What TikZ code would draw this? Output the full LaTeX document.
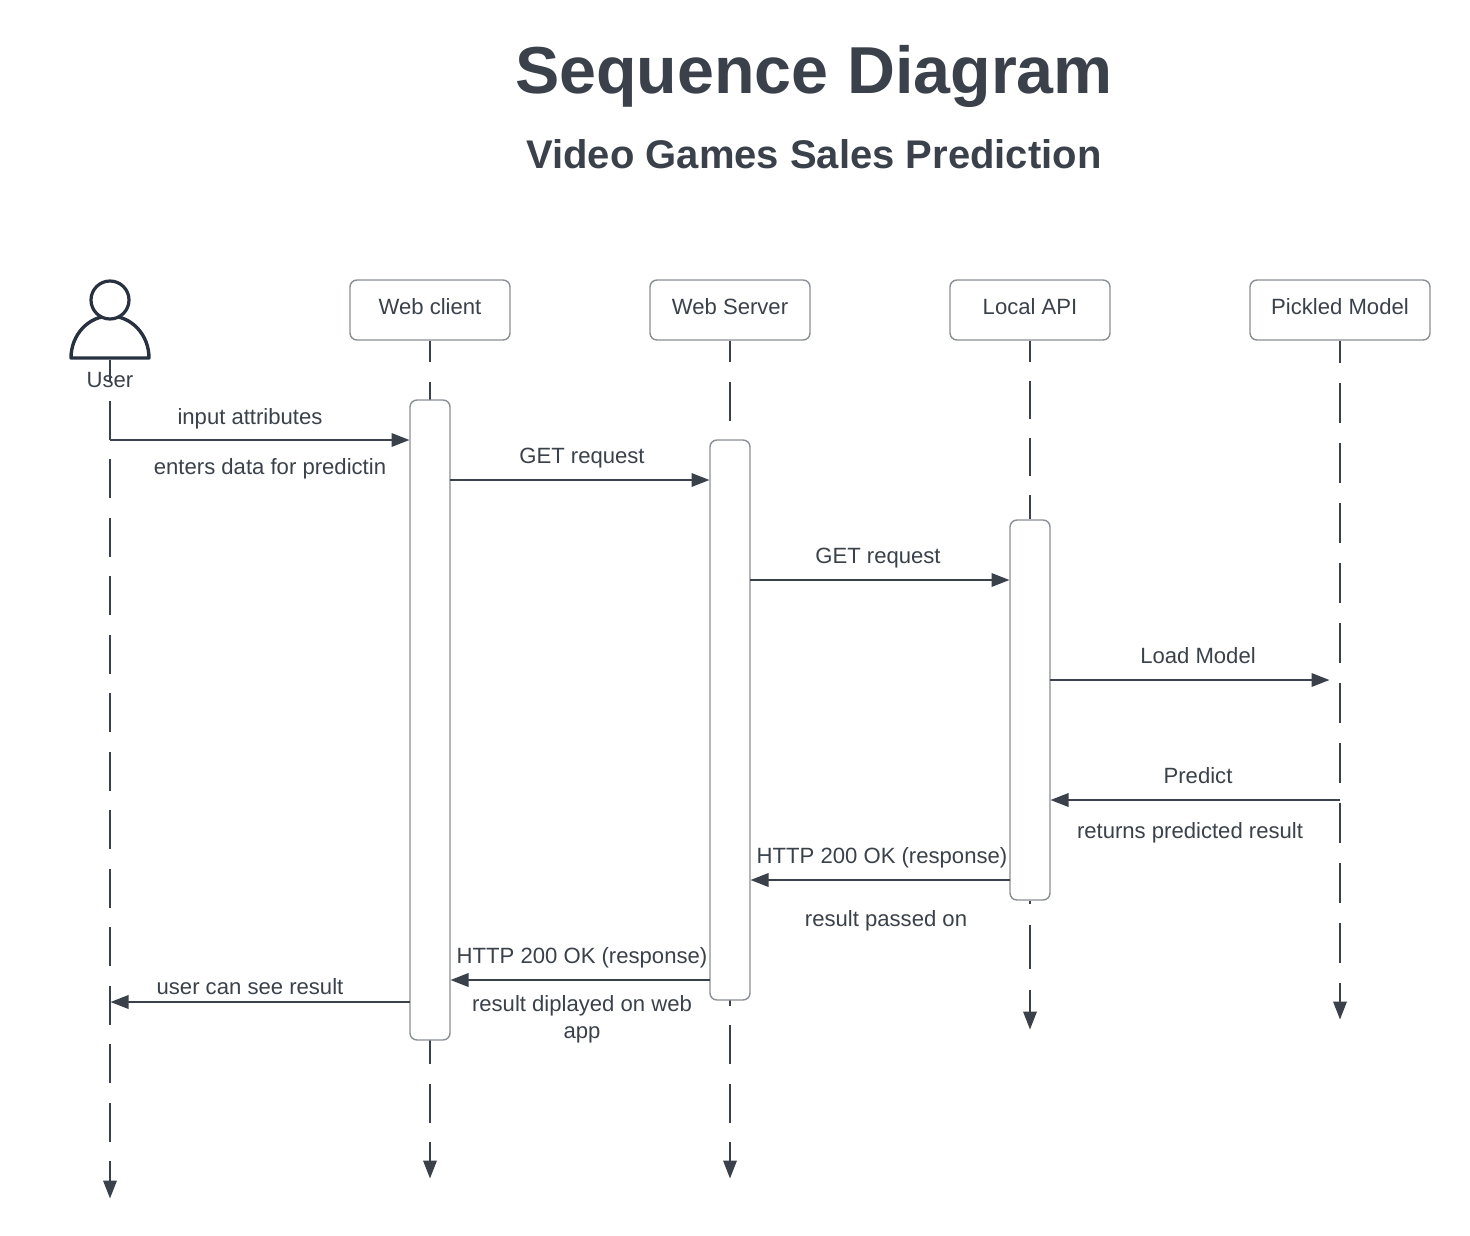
\documentclass[tikz,border=0pt]{standalone}
\usepackage{fontspec}
\setmainfont{Liberation Sans}
\usetikzlibrary{arrows.meta,backgrounds}
\definecolor{ink}{HTML}{3A414A}
\definecolor{edge}{HTML}{8A8F96}
\definecolor{actor}{HTML}{28313F}
\tikzset{
  head/.style={draw=edge,line width=1.4pt,fill=white,rounded corners=7pt,minimum height=60pt,inner sep=0pt},
  bar/.style={draw=edge,line width=1.4pt,fill=white,rounded corners=7pt,minimum width=40pt,inner sep=0pt},
  txt/.style={text=ink,inner sep=0pt,anchor=base,font=\fontsize{22.1}{26}\selectfont},
  msg/.style={draw=ink,line width=2pt,-{Triangle[length=18pt,width=13.5pt]}},
  life/.style={draw=ink,line width=2pt},
  lifeend/.style={life,-{Triangle[length=18pt,width=13.5pt]}},
  dashA/.style={dash pattern=on 39pt off 19.5pt,dash phase=17.5pt},
  dashU/.style={dash pattern=on 39pt off 19.5pt,dash phase=18pt},
  dashB/.style={dash pattern=on 38pt off 19pt,dash phase=17pt},
  dashC/.style={dash pattern=on 44pt off 21pt,dash phase=41pt},
  dashD/.style={dash pattern=on 40pt off 20pt,dash phase=18pt},
}
\begin{document}
\begin{tikzpicture}[x=1pt,y=-1pt]
\useasboundingbox (0,0) rectangle (1470,1236);
% titles
\node[txt,font=\bfseries\fontsize{66.4}{70}\selectfont] (title) at (814,94) {Sequence Diagram};
\node[txt,font=\bfseries\fontsize{40}{44}\selectfont] (subtitle) at (814,168.4) {Video Games Sales Prediction};
% participants
\node[head,minimum width=160pt] (wc) at (430,310) {};
\node[head,minimum width=160pt] (ws) at (730,310) {};
\node[head,minimum width=160pt] (api) at (1030,310) {};
\node[head,minimum width=180pt] (pm) at (1340,310) {};
\node[txt] (wcT) at (430,314.4) {Web client};
\node[txt] (wsT) at (730,314.4) {Web Server};
\node[txt] (apiT) at (1030,314.4) {Local API};
\node[txt] (pmT) at (1340,314.4) {Pickled Model};
% actor
\draw[actor,line width=3.4pt,line join=round] (71,358) arc[start angle=180,end angle=360,x radius=39,y radius=42] -- cycle;
\node[circle,draw=actor,fill=white,line width=3.2pt,minimum size=38pt,inner sep=0pt] (userHead) at (110,300) {};
\coordinate (userFoot) at (110,360);
\node[txt] (userT) at (110,387) {User};
% activations
\node[bar,minimum height=640pt] (wcBar) at (430,720) {};
\node[bar,minimum height=560pt] (wsBar) at (730,720) {};
\node[bar,minimum height=380pt] (apiBar) at (1030,710) {};
% lifeline ends
\coordinate (userEnd) at (110,1198.5);
\coordinate (wcEnd) at (430,1178.5);
\coordinate (wsEnd) at (730,1178.5);
\coordinate (apiEnd) at (1030,1029.5);
\coordinate (pmEnd) at (1340,1019.5);
\begin{scope}[on background layer]
\draw[lifeend,dashU] (userFoot) -- (userEnd);
\draw[lifeend,dashA] (wc.south) -- (wcEnd);
\draw[lifeend,dashA] (ws.south) -- (wsEnd);
\draw[life,dashB] (api.south) -- (apiBar.north);
\draw[lifeend,dashC] (apiBar.south) -- (apiEnd);
\draw[lifeend,dashD] (pm.south) -- (pmEnd);
\end{scope}
% message end points
\coordinate (m1a) at (110,440);   \coordinate (m1b) at (409.5,440);
\coordinate (m2a) at (450,480);   \coordinate (m2b) at (709.5,480);
\coordinate (m3a) at (750,580);   \coordinate (m3b) at (1009.5,580);
\coordinate (m4a) at (1050,680);  \coordinate (m4b) at (1329.5,680);
\coordinate (m5a) at (1340,800);  \coordinate (m5b) at (1050.5,800);
\coordinate (m6a) at (1010,880);  \coordinate (m6b) at (750.5,880);
\coordinate (m7a) at (710,980);   \coordinate (m7b) at (450.5,980);
\coordinate (m8a) at (410,1002);  \coordinate (m8b) at (110.5,1002);
\draw[msg] (m1a) -- (m1b);
\draw[msg] (m2a) -- (m2b);
\draw[msg] (m3a) -- (m3b);
\draw[msg] (m4a) -- (m4b);
\draw[msg] (m5a) -- (m5b);
\draw[msg] (m6a) -- (m6b);
\draw[msg] (m7a) -- (m7b);
\draw[msg] (m8a) -- (m8b);
% labels
\node[txt] (l1) at (250,424) {input attributes};
\node[txt] (l1b) at (270,474) {enters data for predictin};
\node[txt] (l2) at (582,463.4) {GET request};
\node[txt] (l3) at (878,563.4) {GET request};
\node[txt] (l4) at (1198,663.4) {Load Model};
\node[txt] (l5) at (1198,783.4) {Predict};
\node[txt] (l5b) at (1190,838) {returns predicted result};
\node[txt] (l6) at (882,863.4) {HTTP 200 OK (response)};
\node[txt] (l6b) at (886,926.6) {result passed on};
\node[txt] (l7) at (582,963.4) {HTTP 200 OK (response)};
\node[txt] (l7b) at (582,1011) {result diplayed on web};
\node[txt] (l7c) at (582,1038) {app};
\node[txt] (l8) at (250,994) {user can see result};
\end{tikzpicture}
\end{document}
